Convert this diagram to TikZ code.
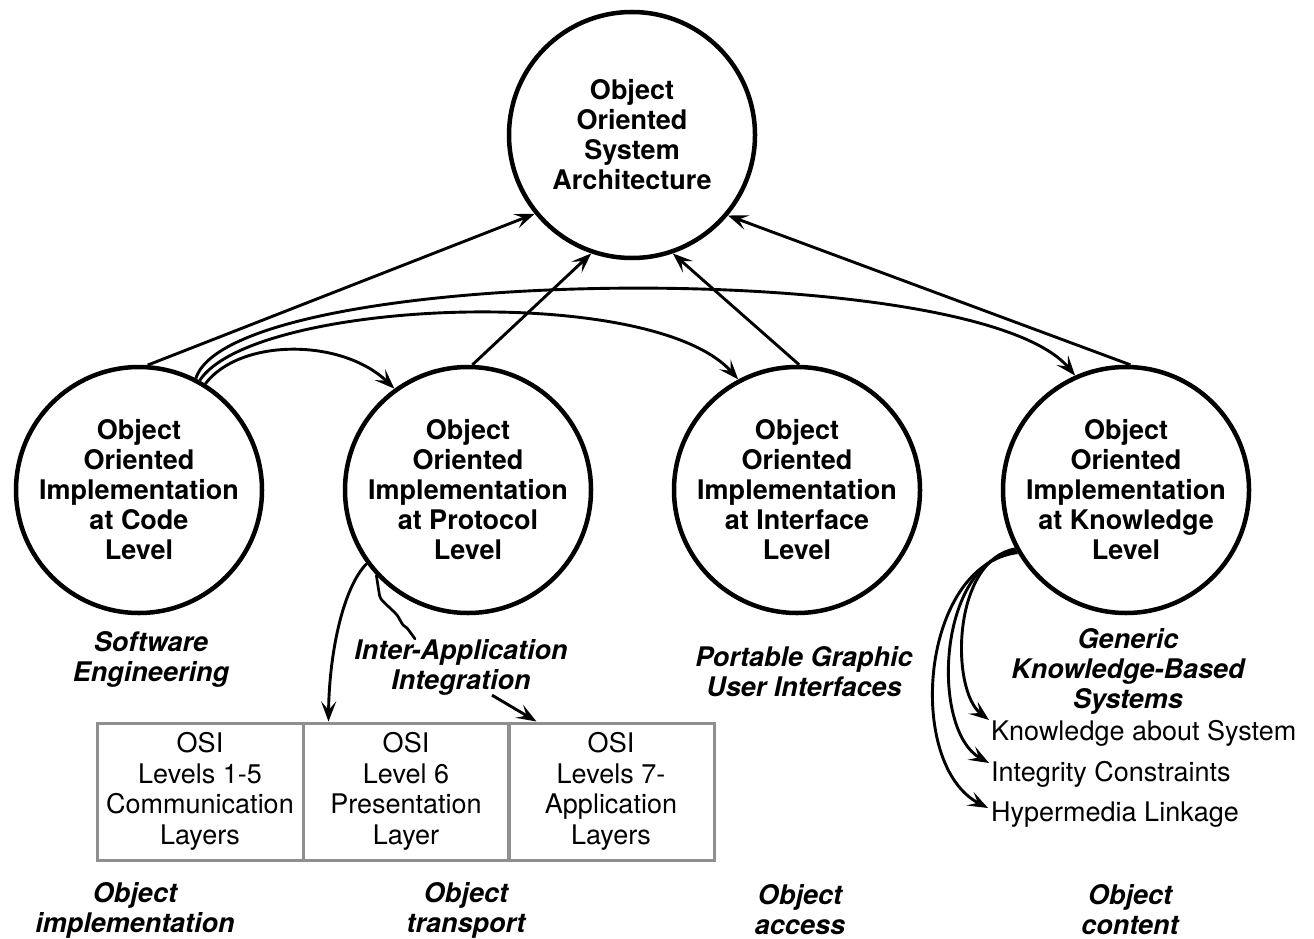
\documentclass[tikz,border=0pt]{standalone}
\usepackage{fontspec}
\setmainfont{TeX Gyre Heros}
\usetikzlibrary{arrows.meta,calc}
\definecolor{boxgray}{HTML}{8F8F8F}
\begin{document}
\begin{tikzpicture}[x=1pt,y=-1pt,
  bubble/.style={draw,circle,line width=4.5pt,minimum size=246pt,inner sep=0pt,
    align=center,font=\bfseries\fontsize{27}{30}\selectfont},
  lbl/.style={align=center,inner sep=0pt,font=\bfseries\itshape\fontsize{27}{30}\selectfont},
  plain/.style={inner sep=0pt,anchor=west,font=\fontsize{27}{30.5}\selectfont},
  cell/.style={draw=boxgray,line width=3pt,minimum width=206pt,minimum height=137pt,
    inner sep=0pt,align=center,font=\fontsize{27}{30.5}\selectfont},
  link/.style={line width=2.9pt,-{Stealth[length=20pt,width=15pt,inset=8.5pt]}},
  wire/.style={line width=2.7pt,line join=round,line cap=round},
]
\useasboundingbox (0,0) rectangle (1314,939);

% top-level architecture and the four implementation levels
\node[bubble] (T) at (632,135) {Object\\Oriented\\System\\Architecture};
\node[bubble] (C) at (139,490) {Object\\Oriented\\Implementation\\at Code\\Level};
\node[bubble] (P) at (468,490) {Object\\Oriented\\Implementation\\at Protocol\\Level};
\node[bubble] (I) at (797,490) {Object\\Oriented\\Implementation\\at Interface\\Level};
\node[bubble] (K) at (1126,490) {Object\\Oriented\\Implementation\\at Knowledge\\Level};

% italic captions under the circles
\node[lbl] (lbC) at (151,659) {Software\\Engineering};
\node[lbl] (lbP) at (461,667) {Inter-Application\\Integration};
\node[lbl] (lbI) at (804,672) {Portable Graphic\\User Interfaces};
\node[lbl] (lbK) at (1128,671) {Generic\\Knowledge-Based\\Systems};

% OSI layer table
\node[cell] (osi1) at (200,791.5) {OSI\\Levels 1-5\\Communication\\Layers};
\node[cell] (osi2) at (406,791.5) {OSI\\Level 6\\Presentation\\Layer};
\node[cell] (osi3) at (611,791.5) {OSI\\Levels 7-\\Application\\Layers};

% knowledge items
\node[plain] (kas) at (991,733) {Knowledge about System};
\node[plain] (ic)  at (991,774) {Integrity Constraints};
\node[plain] (hl)  at (991,815) {Hypermedia Linkage};

% bottom row
\node[lbl] (bC) at (135,910) {Object\\implementation};
\node[lbl] (bP) at (466,910) {Object\\transport};
\node[lbl] (bI) at (800,910) {Object\\access};
\node[lbl] (bK) at (1130,910) {Object\\content};

% straight arrows up to the architecture
\draw[link] (C.86) -- (T.219);
\draw[link] (P.88) -- (T.251);
\draw[link] (I.89) -- (T.289);
\draw[link] (K.88) -- (T.320);

% arcs from the code level to the other levels
\draw[link] (C.58) .. controls (240,338) and (342,338) .. (P.126);
\draw[link] (C.61) .. controls (252,300) and (652,282) .. (I.118);
\draw[link] (C.63) .. controls (232,265) and (975,255) .. (K.114);

% protocol level to the OSI table
\draw[link] (P.216) .. controls (341,590) and (329,660) .. ([xshift=27pt]osi2.north west);
\draw[wire] plot[smooth,tension=0.5] coordinates {(P.223) (379,592) (381,599) (391,609) (397,615) (403,625) (407,628) ([xshift=-46pt]lbP.north)};
\draw[link] ([xshift=31pt]lbP.south) -- ([xshift=30pt]osi3.north west);

% knowledge level to its items
\draw[link] (K.208) .. controls (952,560) and (950,690) .. ([xshift=-2pt,yshift=13pt]kas.west);
\draw[link] (K.209) .. controls (937,562) and (930,730) .. ([xshift=-2pt,yshift=11pt]ic.west);
\draw[link] (K.210) .. controls (920,565) and (905,765) .. ([xshift=-3pt,yshift=7pt]hl.west);
\end{tikzpicture}
\end{document}
